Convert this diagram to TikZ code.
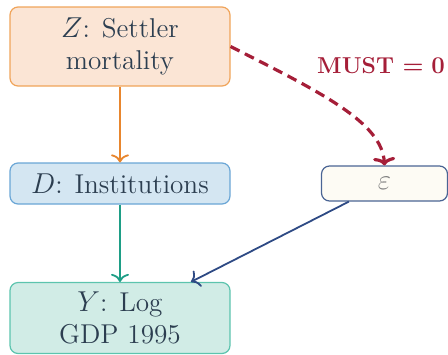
\documentclass[tikz,border=0pt]{standalone}
\usetikzlibrary{positioning,arrows.meta}
\definecolor{txtdark}{HTML}{2C3E50}
\definecolor{zfill}{HTML}{FBE5D5}
\definecolor{zdraw}{HTML}{F0A45A}
\definecolor{zarrow}{HTML}{E8862E}
\definecolor{dfill}{HTML}{D4E6F2}
\definecolor{ddraw}{HTML}{6AA6D6}
\definecolor{darrow}{HTML}{1E9E86}
\definecolor{yfill}{HTML}{D1ECE6}
\definecolor{ydraw}{HTML}{5CC4AE}
\definecolor{efill}{HTML}{FDFBF4}
\definecolor{edraw}{HTML}{4A6494}
\definecolor{earrow}{HTML}{2E4A84}
\definecolor{mustred}{HTML}{A51E38}
\begin{document}
\begin{tikzpicture}[y=0.5pt,x=0.5pt,yscale=-1,
  box/.style={rounded corners=4pt,line width=0.6pt,text=txtdark,align=center,
    font=\fontsize{13.6}{16}\selectfont,inner sep=0pt,minimum width=110pt},
  conn/.style={-{To[length=4pt,width=9pt]},line width=0.9pt}]
\useasboundingbox (0,0) rectangle (448,354);

\node[box,fill=zfill,draw=zdraw,minimum height=39.5pt] (Z) at (120,46.5)
  {$Z$: Settler\\mortality};
\node[box,fill=dfill,draw=ddraw,minimum height=20.5pt] (D) at (120,183.5)
  {$D$: Institutions};
\node[box,fill=yfill,draw=ydraw,minimum height=35.5pt] (Y) at (120,318)
  {$Y$: Log\\GDP 1995};
\node[box,fill=efill,draw=edraw,minimum width=63pt,minimum height=17.5pt,
  text=gray] (eps) at (384.5,183.5) {$\varepsilon$};

\draw[conn,zarrow] (Z) -- (D);
\draw[conn,darrow] (D) -- (Y);
\draw[conn,earrow] (eps) -- (Y);

% excluded path
\draw[-{To[length=4pt,width=11pt]},mustred,line width=1.6pt,
  dash pattern=on 5pt off 3pt]
  (Z.east) .. controls (320,92) and (382,122) .. (eps.north);
\node[text=mustred,font=\fontsize{11.5}{13}\selectfont\bfseries\boldmath]
  (must) at (381,66) {MUST $=0$};
\end{tikzpicture}
\end{document}
